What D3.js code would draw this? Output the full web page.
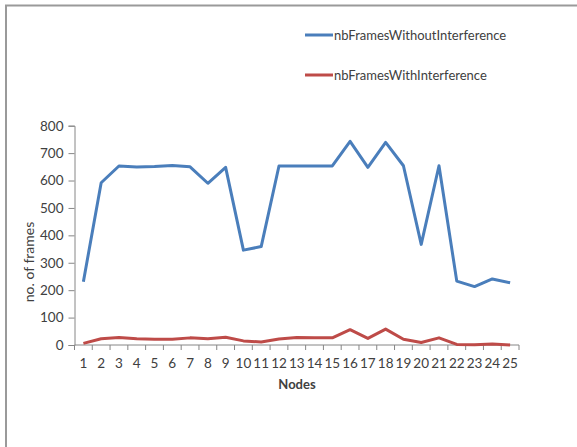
<!DOCTYPE html>
<html>
<head>
<meta charset="utf-8">
<script src="https://cdn.jsdelivr.net/npm/d3@7"></script>
<style>
  html, body { margin: 0; padding: 0; background: #fff; }
  svg { display: block; }
  text { font-family: Lato, "Open Sans", sans-serif; fill: #404040; }
</style>
</head>
<body>
<svg id="chart" width="577" height="447"></svg>
<script>
// Frame counts per node
const nodes = ["1","2","3","4","5","6","7","8","9","10","11","12","13","14","15","16","17","18","19","20","21","22","23","24","25"];
const withoutInterference = [231, 592, 653, 649, 651, 655, 650, 590, 648, 346, 359, 653, 653, 653, 653, 743, 648, 739, 654, 367, 654, 233, 213, 241, 227];
const withInterference = [6, 23, 27, 23, 21, 21, 26, 23, 28, 15, 11, 22, 27, 26, 26, 56, 24, 58, 21, 9, 26, 2, 1, 4, 0];
const yTicks = [0, 100, 200, 300, 400, 500, 600, 700, 800];

const series = [
  { name: "nbFramesWithoutInterference", values: withoutInterference, color: "#4A7EBB" },
  { name: "nbFramesWithInterference", values: withInterference, color: "#BE4B48" }
];

const svg = d3.select("#chart");

// Outer frame (top and left edges)
svg.append("path")
  .attr("d", "M6,447 V5.5 H577")
  .attr("fill", "none")
  .attr("stroke", "#9a9a9a")
  .attr("stroke-width", 2);

const plot = { left: 74.5, right: 519, top: 125.7, bottom: 345 };

const x = d3.scaleBand().domain(nodes).range([plot.left, plot.right]);
const y = d3.scaleLinear().domain([0, 800]).range([plot.bottom, plot.top]);

// Y axis
const yAxis = svg.append("g")
  .attr("transform", `translate(${plot.left},0)`)
  .call(d3.axisLeft(y).tickValues(yTicks).tickSize(6).tickPadding(5));
yAxis.select(".domain").attr("stroke", "#868686");
yAxis.selectAll(".tick line").attr("stroke", "#868686");
yAxis.selectAll(".tick text")
  .attr("font-size", 13.5)
  .attr("font-family", "Lato, sans-serif")
  .attr("fill", "#404040");

// X axis: ticks on category boundaries, labels at category centres
const xg = svg.append("g").attr("transform", `translate(0,${plot.bottom})`);
xg.append("line")
  .attr("x1", plot.left).attr("x2", plot.right)
  .attr("stroke", "#868686");
const bounds = nodes.map(d => x(d)).concat([plot.right]);
xg.selectAll("line.tk").data(bounds).join("line")
  .attr("class", "tk")
  .attr("x1", d => d).attr("x2", d => d)
  .attr("y1", 0).attr("y2", 5)
  .attr("stroke", "#868686");
xg.selectAll("text.lbl").data(nodes).join("text")
  .attr("class", "lbl")
  .attr("x", d => x(d) + x.bandwidth() / 2)
  .attr("y", 23)
  .attr("text-anchor", "middle")
  .attr("font-size", 13.5)
  .text(d => d);

// Axis titles
svg.append("text")
  .attr("x", 297).attr("y", 389)
  .attr("text-anchor", "middle")
  .attr("font-size", 13)
  .attr("font-weight", "bold")
  .text("Nodes");

svg.append("text")
  .attr("transform", "translate(34,262) rotate(-90)")
  .attr("text-anchor", "middle")
  .attr("font-size", 14)
  .text("no. of frames");

// Series lines
const line = d3.line()
  .x((d, i) => x(nodes[i]) + x.bandwidth() / 2)
  .y(d => y(d));

svg.selectAll("path.series").data(series).join("path")
  .attr("class", "series")
  .attr("d", d => line(d.values))
  .attr("fill", "none")
  .attr("stroke", d => d.color)
  .attr("stroke-width", 3)
  .attr("stroke-linejoin", "round");

// Legend
const legend = svg.selectAll("g.legend").data(series).join("g")
  .attr("class", "legend")
  .attr("transform", (d, i) => `translate(305,${35 + i * 40})`);
legend.append("line")
  .attr("x1", 0).attr("x2", 28)
  .attr("stroke", d => d.color)
  .attr("stroke-width", 3);
legend.append("text")
  .attr("x", 29).attr("y", 4.5)
  .attr("font-size", 13)
  .text(d => d.name);
</script>
</body>
</html>
